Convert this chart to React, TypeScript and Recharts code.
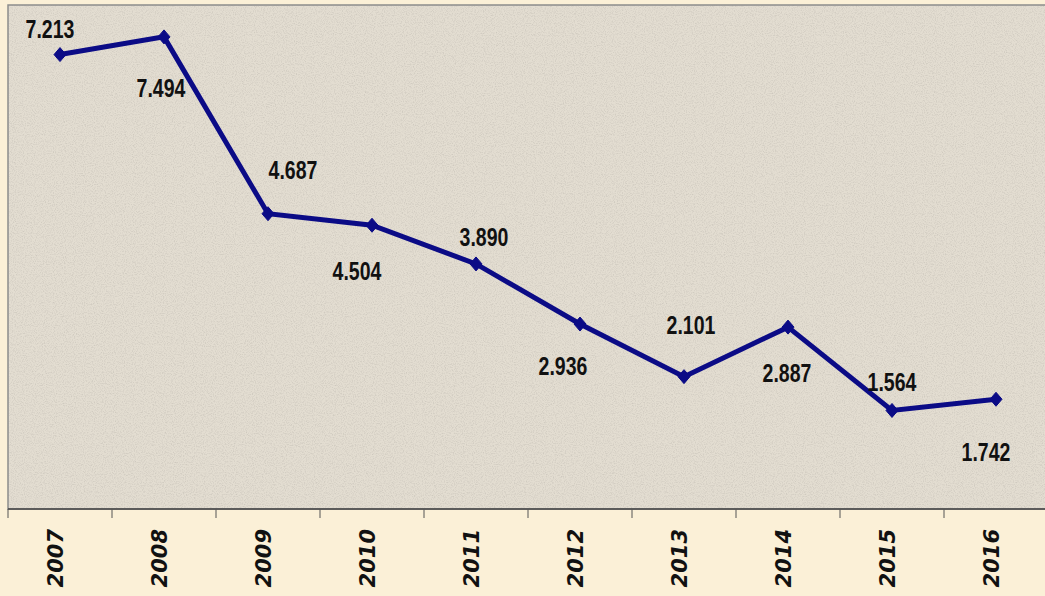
import React from "react";
import { LineChart, Line, XAxis, YAxis, ReferenceArea, LabelList } from "recharts";

const years = ["2007", "2008", "2009", "2010", "2011", "2012", "2013", "2014", "2015", "2016"];
const values = [7.213, 7.494, 4.687, 4.504, 3.89, 2.936, 2.101, 2.887, 1.564, 1.742];
const valueLabels = ["7.213", "7.494", "4.687", "4.504", "3.890", "2.936", "2.101", "2.887", "1.564", "1.742"];
const axisTicks = [0, 0.5, 1, 1.5, 2, 2.5, 3, 3.5, 4, 4.5, 5, 5.5, 6, 6.5, 7, 7.5, 8, 8.5, 9, 9.5, 10];

const data = years.map((y, i) => ({ year: y, pos: i + 0.5, value: values[i], label: valueLabels[i] }));

// manual label placement (relative nudges, as in the original chart)
const labelNudgeX = [-10, -3, 25, -15, 8, -17, 7, -1, 0, -10];
const labelNudgeY = [-26, 51, -44, 46, -27, 42, -52, 46, -29, 53];

const NAVY = "#0b0b86";

const Tick = (props: any) => {
  const { x, y, payload } = props;
  const v = payload.value as number;
  if (Number.isInteger(v)) {
    return <line x1={x} y1={y} x2={x} y2={y + 9} stroke="#555" strokeWidth={1} />;
  }
  const idx = Math.floor(v);
  const tx = x + 3;
  const ty = y + 20;
  return (
    <text
      x={tx}
      y={ty}
      transform={`rotate(-90 ${tx} ${ty})`}
      textAnchor="end"
      fontFamily="'DejaVu Sans', Verdana, sans-serif"
      fontWeight="bold"
      fontStyle="italic"
      fontSize={21}
      fill="#111"
    >
      {years[idx]}
    </text>
  );
};

const Diamond = (props: any) => {
  const { cx, cy } = props;
  if (cx == null || cy == null) return null;
  const w = 6, h = 7;
  return (
    <polygon
      points={`${cx},${cy - h} ${cx + w},${cy} ${cx},${cy + h} ${cx - w},${cy}`}
      fill={NAVY}
      stroke={NAVY}
    />
  );
};

const ValueLabel = (props: any) => {
  const { x, y, index, value } = props;
  const lx = x + labelNudgeX[index];
  const ly = y + labelNudgeY[index];
  return (
    <text
      transform={`translate(${lx} ${ly}) scale(0.75 1)`}
      x={0}
      y={0}
      textAnchor="middle"
      dominantBaseline="central"
      fontFamily="'Liberation Sans', Arial, sans-serif"
      fontWeight="bold"
      fontSize={26}
      fill="#111"
    >
      {value}
    </text>
  );
};

const PlotBg = (props: any) => {
  const { x, y, width, height } = props;
  return (
    <g>
      <defs>
        <filter id="speckle" x="0" y="0" width="100%" height="100%">
          <feTurbulence type="fractalNoise" baseFrequency="0.9" numOctaves={2} seed={3} result="n" />
          <feColorMatrix
            in="n"
            type="matrix"
            values="0 0 0 0 0.35  0 0 0 0 0.33  0 0 0 0 0.3  0 0 0 -2.2 1.25"
          />
        </filter>
      </defs>
      <rect x={x} y={y} width={width} height={height} fill="#e3ddd1" />
      <rect x={x} y={y} width={width} height={height} filter="url(#speckle)" opacity={0.3} />
      <rect x={x} y={y} width={width} height={height} fill="none" stroke="#8c8c8c" strokeWidth={1.5} />
    </g>
  );
};

export default function App() {
  return (
    <div
      style={{
        position: "fixed",
        left: 0,
        top: 0,
        width: 1045,
        height: 596,
        overflow: "hidden",
        background: "#fbf0d7",
      }}
    >
      <LineChart
        width={1050}
        height={596}
        data={data}
        margin={{ top: 5, right: 2, left: 8, bottom: 0 }}
      >
        <XAxis
          dataKey="pos"
          type="number"
          domain={[0, 10]}
          ticks={axisTicks}
          interval={0}
          tickLine={false}
          tickSize={0}
          tickMargin={0}
          axisLine={{ stroke: "#444", strokeWidth: 1.5 }}
          tick={<Tick />}
          height={87}
        />
        <YAxis hide domain={[0, 8]} type="number" />
        <ReferenceArea x1={0} x2={10} y1={0} y2={8} shape={<PlotBg />} />
        <Line
          dataKey="value"
          stroke={NAVY}
          strokeWidth={5}
          dot={<Diamond />}
          activeDot={false}
          isAnimationActive={false}
        >
          <LabelList dataKey="label" content={<ValueLabel />} />
        </Line>
      </LineChart>
    </div>
  );
}
